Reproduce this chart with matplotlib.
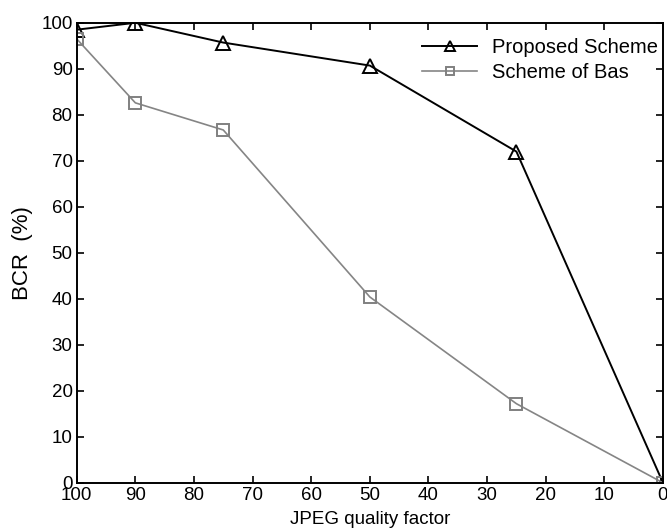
import numpy as np
import matplotlib
matplotlib.use("Agg")
import matplotlib.pyplot as plt

plt.rcParams['font.family'] = ['Liberation Sans', 'DejaVu Sans']

quality = [100, 90, 75, 50, 25, 0]
proposed = [98.5, 100, 95.7, 90.7, 72, 0]
bas = [96.5, 82.6, 76.7, 40.4, 17.2, 0]

fig = plt.figure(figsize=(6.67, 5.3), dpi=100)
ax = fig.add_axes([0.115, 0.089, 0.879, 0.868])

ax.plot(quality, proposed, color='black', lw=1.4, marker='^', ms=10,
        mfc='none', mec='black', mew=1.4, label='Proposed Scheme')
ax.plot(quality, bas, color='#858585', lw=1.2, marker='s', ms=8.5,
        mfc='none', mec='#808080', mew=1.4, label='Scheme of Bas')

ax.set_xlim(100, 0)
ax.set_ylim(0, 100)
ax.set_xticks(np.arange(100, -1, -10))
ax.set_yticks(np.arange(0, 101, 10))
ax.tick_params(direction='in', top=True, right=True, labelsize=13.5,
               length=5, width=1.2, pad=3)
for s in ax.spines.values():
    s.set_linewidth(1.4)

ax.set_xlabel('JPEG quality factor', fontsize=13.5, labelpad=5)
ax.set_ylabel('BCR  (%)', fontsize=16, labelpad=6)

ax.legend(loc='upper right', bbox_to_anchor=(1.012, 0.993), frameon=False,
          fontsize=14.5, handlelength=2.7, borderaxespad=0.2,
          labelspacing=0.3, handletextpad=0.75, markerscale=0.75)

fig.savefig('out.png', dpi=100)
